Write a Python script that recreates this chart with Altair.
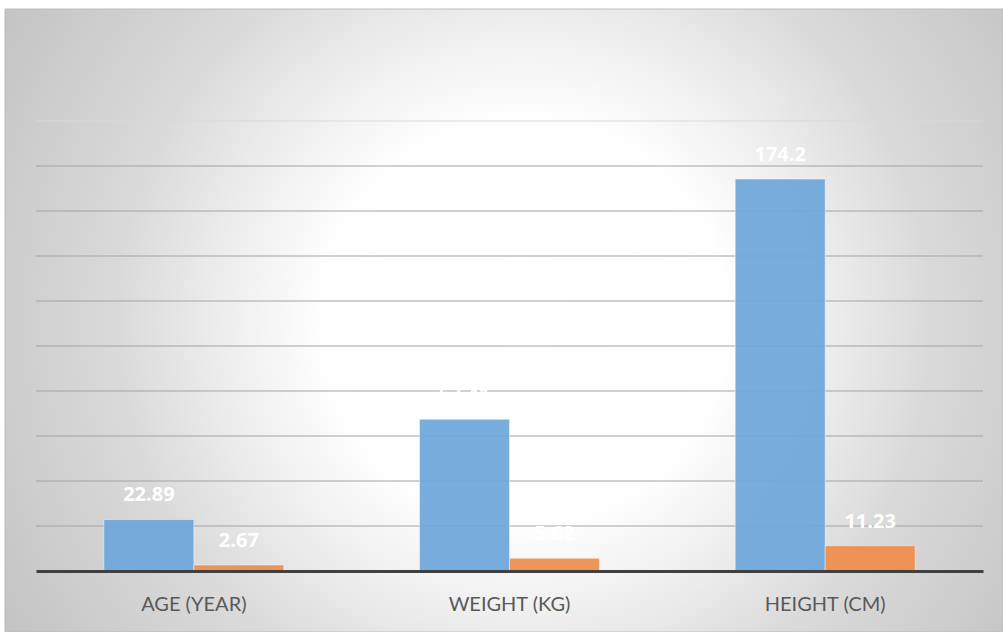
import altair as alt
import pandas as pd

# ---- data ----
categories = ["AGE (YEAR)", "WEIGHT (KG)", "HEIGHT (CM)"]
series_names = ["Mean", "SD"]
mean_values = [22.89, 67.41, 174.2]
sd_values = [2.67, 5.62, 11.23]
mean_labels = ["22.89", "67.41", "174.2"]
sd_labels = ["2.67", "5.62", "11.23"]
grid_ticks = [20, 40, 60, 80, 100, 120, 140, 160, 180, 200]

rows = []
for c, m, s, ml, sl in zip(categories, mean_values, sd_values, mean_labels, sd_labels):
    rows.append({"category": c, "series": series_names[0], "value": m, "label": ml})
    rows.append({"category": c, "series": series_names[1], "value": s, "label": sl})
df = pd.DataFrame(rows)
grid_df = pd.DataFrame({"tick": grid_ticks})

W, H = 947, 450
PAD_L, PAD_T, PAD_R, PAD_B = 36, 121, 20, 61

yscale = alt.Scale(domain=[0, 200], nice=False, zero=True)
xscale = alt.Scale(domain=categories, paddingInner=0.43, paddingOuter=0.215)
colors = alt.Scale(domain=series_names, range=["#6FA7DB", "#EF8E4C"])

background = alt.Chart(pd.DataFrame({"a": [0]})).mark_rect(
    fill=alt.RadialGradient(
        gradient="radial",
        x1=0.52, y1=0.5, r1=0.0,
        x2=0.52, y2=0.5, r2=0.6,
        stops=[
            alt.GradientStop(color="#ffffff", offset=0),
            alt.GradientStop(color="#fefefe", offset=0.34),
            alt.GradientStop(color="#ececec", offset=0.52),
            alt.GradientStop(color="#dadada", offset=0.68),
            alt.GradientStop(color="#cfcfcf", offset=0.84),
            alt.GradientStop(color="#c4c4c4", offset=1),
        ],
    ),
    stroke="#bdbdbd",
    strokeWidth=1,
).encode(
    x=alt.value(5 - PAD_L),
    x2=alt.value(1003 - PAD_L),
    y=alt.value(9 - PAD_T),
    y2=alt.value(632 - PAD_T),
)

grid = alt.Chart(grid_df).mark_rule(strokeWidth=1).encode(
    y=alt.Y("tick:Q", scale=yscale, axis=None),
    color=alt.condition(alt.datum.tick == 200, alt.value("#d9d9d9"), alt.value("#a3a3a3")),
)

bars = alt.Chart(df).mark_bar(
    stroke="#ffffff", strokeOpacity=0.45, strokeWidth=1, opacity=0.93
).encode(
    x=alt.X(
        "category:N",
        sort=categories,
        scale=xscale,
        axis=alt.Axis(
            title=None,
            labelAngle=0,
            labelFont="Lato",
            labelFontSize=20,
            labelColor="#595959",
            labelPadding=23,
            ticks=False,
            domainColor="#404040",
            domainWidth=3,
            grid=False,
            zindex=1,
        ),
    ),
    xOffset=alt.XOffset("series:N", sort=series_names, scale=alt.Scale(paddingInner=0, paddingOuter=0)),
    y=alt.Y("value:Q", scale=yscale, axis=None),
    color=alt.Color("series:N", scale=colors, legend=None),
)

labels = alt.Chart(df).mark_text(
    font="Open Sans",
    fontWeight="bold",
    fontSize=20,
    color="#ffffff",
    baseline="alphabetic",
    align="center",
    dy=-18,
).encode(
    x=alt.X("category:N", sort=categories, scale=xscale),
    xOffset=alt.XOffset("series:N", sort=series_names),
    y=alt.Y("value:Q", scale=yscale),
    text="label:N",
)

chart = alt.layer(background, grid, bars, labels).properties(
    width=W,
    height=H,
    autosize=alt.AutoSizeParams(type="none"),
    padding={"left": PAD_L, "top": PAD_T, "right": PAD_R, "bottom": PAD_B},
    background="#ffffff",
).configure_view(stroke=None)

chart.save("out.html", embed_options={"renderer": "svg", "actions": False})
